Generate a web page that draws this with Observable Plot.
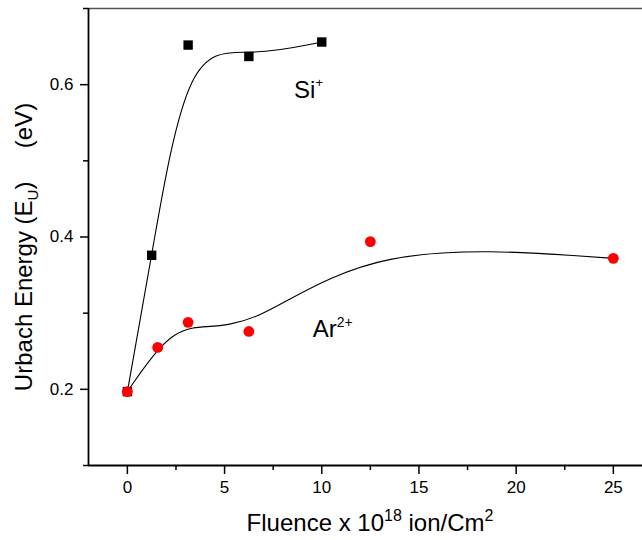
<!DOCTYPE html>
<html><head><meta charset="utf-8">
<script src="https://cdn.jsdelivr.net/npm/d3@7"></script>
<script src="https://cdn.jsdelivr.net/npm/@observablehq/plot@0.6"></script>
<style>body{margin:0;background:#fff} svg{display:block}</style>
</head><body><div id="chart"></div>
<script>
const siFluence = [0, 1.25, 3.125, 6.25, 10];
const siEnergy = [0.197, 0.376, 0.652, 0.637, 0.656];
const arFluence = [0, 1.56, 3.125, 6.25, 12.5, 25];
const arEnergy = [0.197, 0.255, 0.288, 0.276, 0.394, 0.372];
const xTicks = [0, 5, 10, 15, 20, 25];
const xMinor = [2.5, 7.5, 12.5, 17.5, 22.5];
const yTicks = [0.2, 0.4, 0.6];
const yMinor = [0.1, 0.3, 0.5, 0.7];
const seriesLabels = [
  {base: "Si", sup: "+", x: 8.6, y: 0.5815},
  {base: "Ar", sup: "2+", x: 9.56, y: 0.2677}
];

const si = siFluence.map((x, i) => ({x, y: siEnergy[i]}));
const ar = arFluence.map((x, i) => ({x, y: arEnergy[i]}));
const font = "'Liberation Sans', Arial, sans-serif";

const plot = Plot.plot({
  width: 642, height: 540,
  marginLeft: 88, marginRight: 0, marginTop: 8, marginBottom: 75,
  x: {domain: [-2, 26.5]},
  y: {domain: [0.1, 0.7]},
  style: {fontFamily: font, fontSize: "17px", color: "#000", background: "#fff", overflow: "visible"},
  marks: [
    Plot.axisX(xTicks, {tickSize: 9, tickPadding: 6, label: null, fontSize: 17, strokeWidth: 1.5}),
    Plot.axisX(xMinor, {tickSize: 5, text: null, label: null, strokeWidth: 1.5}),
    Plot.axisY(yTicks, {tickSize: 8, tickPadding: 7, tickFormat: d3.format(".1f"), label: null, fontSize: 17, strokeWidth: 1.5}),
    Plot.axisY(yMinor, {tickSize: 5, text: null, label: null, strokeWidth: 1.5}),
    Plot.ruleY([0.7], {stroke: "#555", strokeWidth: 1.5}),
    Plot.ruleX([-2], {stroke: "#000", strokeWidth: 1.8}),
    Plot.ruleY([0.1], {stroke: "#000", strokeWidth: 1.8}),
    Plot.line(si, {x: "x", y: "y", curve: "basis", stroke: "#000", strokeWidth: 1.1}),
    Plot.line(ar, {x: "x", y: "y", curve: "basis", stroke: "#000", strokeWidth: 1.1}),
    Plot.dot(si, {x: "x", y: "y", symbol: "square", fill: "#000", r: 5.3}),
    Plot.dot(ar, {x: "x", y: "y", fill: "#ff0000", r: 5.4})
  ]
});

const svg = d3.select(plot);
const sx = plot.scale("x"), sy = plot.scale("y");

// series annotations
seriesLabels.forEach((l, i) => {
  const t = svg.append("text")
    .attr("x", sx.apply(l.x)).attr("y", sy.apply(l.y))
    .attr("text-anchor", "start")
    .attr("font-family", font).attr("font-size", 24).attr("fill", "#000");
  t.append("tspan").text(l.base);
  t.append("tspan").attr("font-size", i === 0 ? 13 : 14).attr("dy", i === 0 ? -11 : -10).text(l.sup);
});

// x axis title
const xt = svg.append("text")
  .attr("x", 370).attr("y", 531).attr("text-anchor", "middle")
  .attr("font-family", font).attr("font-size", 24).attr("fill", "#000");
xt.append("tspan").text("Fluence x 10");
xt.append("tspan").attr("font-size", 16).attr("dy", -10).text("18");
xt.append("tspan").attr("dy", 10).text(" ion/Cm");
xt.append("tspan").attr("font-size", 16).attr("dy", -10).text("2");

// y axis title
const yt = svg.append("text")
  .attr("transform", "translate(32,247) rotate(-90)").attr("text-anchor", "middle")
  .attr("font-family", font).attr("font-size", 24).attr("fill", "#000")
  .attr("xml:space", "preserve");
yt.append("tspan").text("Urbach Energy (E");
yt.append("tspan").attr("font-size", 15).attr("dy", 6).text("U");
yt.append("tspan").attr("dy", -6).text(")     (eV)");

document.getElementById("chart").appendChild(plot);
</script>
</body></html>
